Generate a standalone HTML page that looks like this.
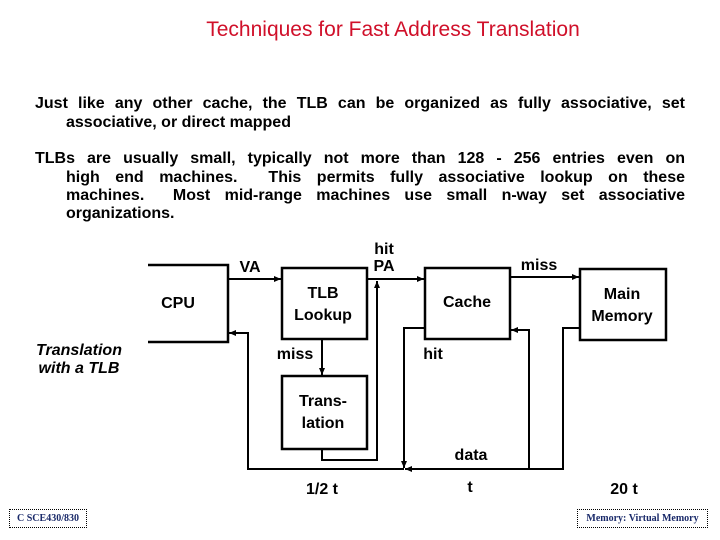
<!DOCTYPE html>
<html><head><style>
body{margin:0;width:720px;height:540px;background:#fff;position:relative;overflow:hidden;font-family:"Liberation Sans",sans-serif}
.t{position:absolute;white-space:nowrap}
.b{font-weight:bold;font-size:16px;color:#000}
.l{position:absolute;font-size:16px;font-weight:bold;line-height:18.5px;white-space:nowrap;text-align:justify;text-align-last:justify}
.c{text-align:center;transform:translateX(-50%)}
.f{position:absolute;border:1px dotted #000;font-family:"Liberation Serif",serif;font-size:10px;font-weight:bold;color:#1a2a6a;text-align:center;line-height:17px;box-sizing:border-box;height:19px}
</style></head><body>
<div class="t" style="left:0;width:786px;top:18px;text-align:center;font-size:21px;color:#d0102a">Techniques for Fast Address Translation</div>
<div class="l" style="left:35px;width:650px;top:95px">Just like any other cache, the TLB can be organized as fully associative, set</div>
<div class="l" style="left:66px;top:114px;text-align-last:left">associative, or direct mapped</div>
<div class="l" style="left:35px;width:650px;top:150px">TLBs are usually small, typically not more than 128 - 256 entries even on</div>
<div class="l" style="left:66px;width:619px;top:169px">high end machines.&nbsp; This permits fully associative lookup on these</div>
<div class="l" style="left:66px;width:619px;top:187px">machines.&nbsp; Most mid-range machines use small n-way set associative</div>
<div class="l" style="left:66px;top:205px;text-align-last:left">organizations.</div>
<svg style="position:absolute;left:0;top:0" width="720" height="540">
<defs><marker id="a" markerWidth="8" markerHeight="8" refX="7" refY="3" orient="auto" markerUnits="userSpaceOnUse"><path d="M0,0 L7,3 L0,6z" fill="#000"/></marker></defs>
<g stroke="#000" stroke-width="2.5" fill="none">
<polyline points="148,265 228,265 228,342 148,342"/>
<rect x="282" y="268" width="85" height="71"/>
<rect x="282" y="376" width="85" height="73"/>
<rect x="425" y="268" width="85" height="71"/>
<rect x="580" y="269" width="86" height="71"/>
</g>
<g stroke="#000" stroke-width="2" fill="none">
<line x1="228" y1="279" x2="281" y2="279" marker-end="url(#a)"/>
<line x1="367" y1="279" x2="424" y2="279" marker-end="url(#a)"/>
<line x1="510" y1="277" x2="579" y2="277" marker-end="url(#a)"/>
<line x1="322" y1="339" x2="322" y2="375" marker-end="url(#a)"/>
<polyline points="322,449 322,460 377,460 377,281" marker-end="url(#a)"/>
<polyline points="425,328 404,328 404,468" marker-end="url(#a)"/>
<polyline points="580,328 563,328 563,469 405,469" marker-end="url(#a)"/>
<polyline points="404,469 248,469 248,333 229,333" marker-end="url(#a)"/>
<polyline points="529,469 529,330 511,330" marker-end="url(#a)"/>
</g>
</svg>
<div class="t b c" style="left:250px;top:259px">VA</div>
<div class="t b c" style="left:384px;top:241px;line-height:17px">hit<br>PA</div>
<div class="t b c" style="left:539px;top:257px">miss</div>
<div class="t b c" style="left:178px;top:295px">CPU</div>
<div class="t b c" style="left:323px;top:283px;line-height:22px">TLB<br>Lookup</div>
<div class="t b c" style="left:467px;top:294px">Cache</div>
<div class="t b c" style="left:622px;top:284px;line-height:22px">Main<br>Memory</div>
<div class="t b c" style="left:295px;top:346px">miss</div>
<div class="t b c" style="left:433px;top:346px">hit</div>
<div class="t c" style="left:79px;top:342px;font-size:16px;font-style:italic;font-weight:bold;line-height:18px">Translation<br>with a TLB</div>
<div class="t b c" style="left:323px;top:391px;line-height:22px">Trans-<br>lation</div>
<div class="t b c" style="left:471px;top:447px">data</div>
<div class="t b c" style="left:322px;top:481px">1/2 t</div>
<div class="t b c" style="left:470px;top:479px">t</div>
<div class="t b c" style="left:624px;top:481px">20 t</div>
<div class="f" style="left:9px;top:509px;width:78px">C SCE430/830</div>
<div class="f" style="left:577px;top:509px;width:131px">Memory: Virtual Memory</div>
</body></html>
